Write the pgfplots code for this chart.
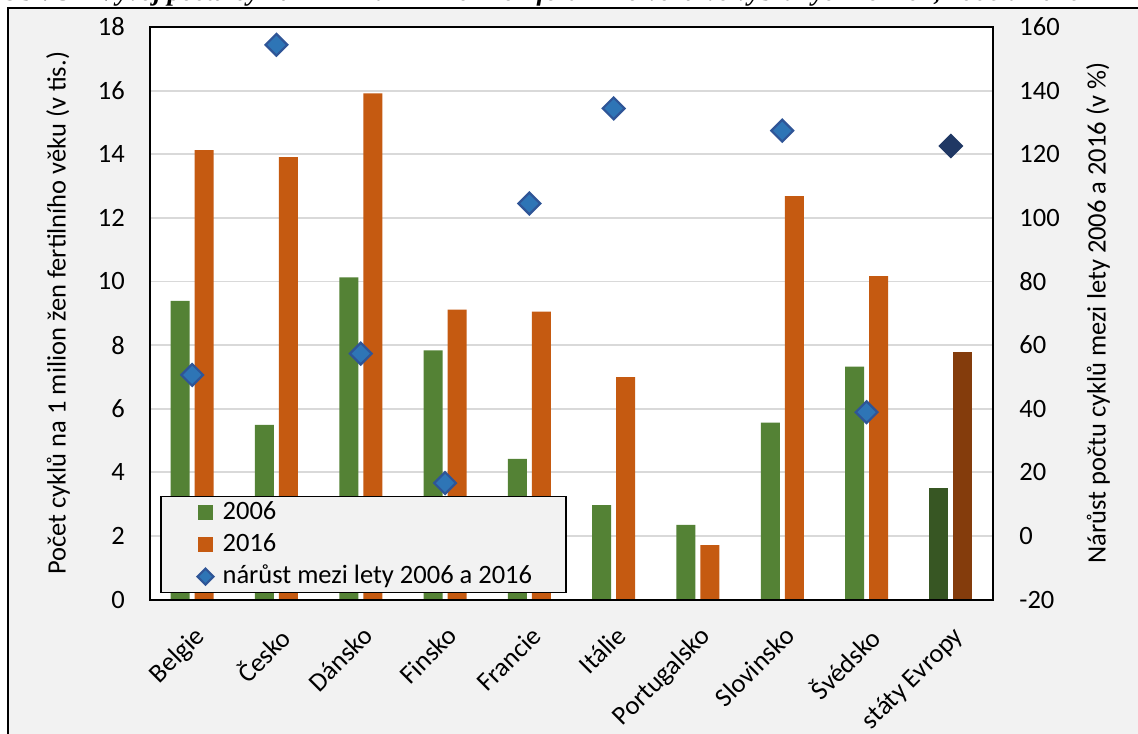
\documentclass[border=0pt]{standalone}
\usepackage{pgfplots}
\pgfplotsset{compat=1.18}
\usepackage{fontspec}
\setmainfont{Carlito}
\newfontfamily\titlefont{Liberation Serif}

\definecolor{bggray}{HTML}{F2F2F2}
\definecolor{gridgray}{HTML}{D9D9D9}
\definecolor{green06}{HTML}{548235}
\definecolor{orange16}{HTML}{C55A11}
\definecolor{green06d}{HTML}{375623}
\definecolor{orange16d}{HTML}{843C0C}
\definecolor{dmdfill}{HTML}{2E75B6}
\definecolor{dmdline}{HTML}{2F5597}
\definecolor{dmdeu}{HTML}{203864}

\begin{document}
\fontsize{13.25pt}{16pt}\selectfont
\begin{tikzpicture}[font=\fontsize{13.25pt}{16pt}\selectfont]
\useasboundingbox (0,0) rectangle (569pt,366.5pt);
\begin{scope}
\clip (0,0) rectangle (569pt,366.5pt);
\fill[white] (0,0) rectangle (569pt,366.5pt);
% chart area
\filldraw[fill=bggray, draw=black, line width=0.75pt] (4pt,-10pt) rectangle (600pt,362.5pt);
% figure caption
\node[anchor=base west, inner sep=0pt] at (0.5pt,366.3pt)
  {\resizebox{540pt}{!}{\titlefont\bfseries\itshape Obr. 5 – Vývoj počtu cyklů ART na 1 milion žen fertilního věku ve vybraných zemích, 2006 a 2016}};

% bars: number of cycles (thousands)
\begin{axis}[
  at={(75pt,66.75pt)}, anchor=south west,
  scale only axis, width=421.5pt, height=286.25pt,
  xmin=-0.5, xmax=9.5, ymin=0, ymax=18,
  ytick={0,2,...,18},
  xtick={0,...,9},
  xticklabels={Belgie,Česko,Dánsko,Finsko,Francie,Itálie,Portugalsko,Slovinsko,Švédsko,státy Evropy},
  major tick length=0pt,
  ymajorgrids,
  grid style={draw=gridgray, line width=0.9pt},
  axis background/.style={fill=white},
  axis line style={line width=1pt},
  /pgf/number format/assume math mode=true,
  yticklabel style={xshift=-8pt},
  xticklabel style={rotate=45, anchor=north east, inner sep=0pt, xshift=-8.5pt, yshift=-9pt},
  ylabel={Počet cyklů na 1 milion žen fertilního věku (v tis.)},
  ylabel style={at={(axis description cs:-0.109,0.5)}, anchor=center},
]
\addplot[ybar, bar width=9.5pt, bar shift=-6pt, fill=green06, draw=none]
  coordinates {(0,9.39) (1,5.49) (2,10.13) (3,7.83) (4,4.42) (5,2.97) (6,2.35) (7,5.56) (8,7.32)};
\addplot[ybar, bar width=9.5pt, bar shift=6pt, fill=orange16, draw=none]
  coordinates {(0,14.13) (1,13.91) (2,15.91) (3,9.11) (4,9.05) (5,6.99) (6,1.71) (7,12.68) (8,10.17)};
\addplot[ybar, bar width=9.5pt, bar shift=-6pt, fill=green06d, draw=none]
  coordinates {(9,3.49)};
\addplot[ybar, bar width=9.5pt, bar shift=6pt, fill=orange16d, draw=none]
  coordinates {(9,7.77)};
\end{axis}

% markers: growth between 2006 and 2016 (%)
\begin{axis}[
  at={(75pt,66.75pt)}, anchor=south west,
  scale only axis, width=421.5pt, height=286.25pt,
  xmin=-0.5, xmax=9.5, ymin=-20, ymax=160,
  ytick={-20,0,...,160},
  axis x line*=bottom, xtick=\empty,
  axis y line*=right,
  axis line style={line width=1pt},
  major tick length=0pt,
  /pgf/number format/assume math mode=true,
  yticklabel style={xshift=8.6pt},
  ylabel={Nárůst počtu cyklů mezi lety 2006 a 2016 (v \%)},
  ylabel style={at={(axis description cs:1.1246,0.5)}, anchor=center},
  legend cell align=left,
  legend style={at={(axis description cs:0.0119,0.181)}, anchor=north west,
    fill=bggray, draw=black, line width=0.75pt,
    inner xsep=13pt, inner ysep=2pt, row sep=4pt,
    nodes={inner xsep=4pt, inner ysep=0pt, text height=9.5pt, text depth=2.5pt}},
]
\addlegendimage{legend image code/.code={\path (-5.5pt,0pt); \fill[green06] (0pt,-3.5pt) rectangle (7pt,3.5pt);}}
\addlegendentry{2006}
\addlegendimage{legend image code/.code={\path (-5.5pt,0pt); \fill[orange16] (0pt,-3.5pt) rectangle (7pt,3.5pt);}}
\addlegendentry{2016}
\addplot[only marks, mark=square*, mark size=3.85pt,
  mark options={rotate=45, fill=dmdfill, draw=dmdline, line width=1.1pt},
  legend image code/.code={\path (-5.5pt,0pt); \draw[dmdline, fill=dmdfill, line width=1.1pt] (3.5pt,4pt) -- (7.5pt,0pt) -- (3.5pt,-4pt) -- (-0.5pt,0pt) -- cycle;}]
  coordinates {(0,50.6) (1,154.4) (2,57.3) (3,16.6) (4,104.5) (5,134.4) (7,127.4) (8,38.9)};
\addlegendentry{nárůst mezi lety 2006 a 2016}
\addplot[forget plot, only marks, mark=square*, mark size=3.85pt,
  mark options={rotate=45, fill=dmdeu, draw=dmdeu, line width=1.1pt}]
  coordinates {(9,122.6)};
\end{axis}
\end{scope}
\end{tikzpicture}
\end{document}
